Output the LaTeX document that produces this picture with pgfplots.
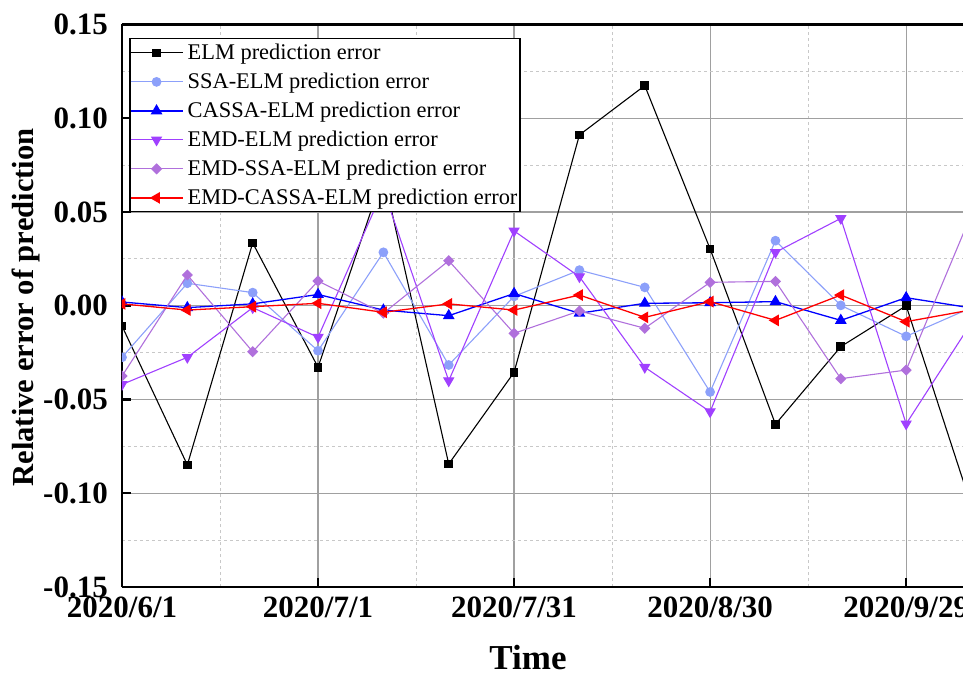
\documentclass[border=0pt]{standalone}
\usepackage{fontspec}
\setmainfont{Liberation Serif}
\usepackage{pgfplots}
\usepackage{pgfplotstable}
\pgfplotsset{compat=1.18}
\definecolor{cSSA}{RGB}{140,160,250}
\definecolor{cEMD}{RGB}{160,64,255}
\definecolor{cEMDSSA}{RGB}{176,112,220}
\definecolor{majgrid}{RGB}{160,160,160}
\definecolor{mingrid}{RGB}{200,200,200}

\pgfplotstableread{
day elm ssa cassa emd emdssa emdcassa
0 -0.0108 -0.0275 0.0020 -0.0420 -0.0375 0.0010
10 -0.0849 0.0120 -0.0010 -0.0275 0.0164 -0.0023
20 0.0335 0.0070 0.0010 -0.0010 -0.0245 -0.0005
30 -0.0328 -0.0240 0.0060 -0.0168 0.0132 0.0013
40 0.0700 0.0285 -0.0023 0.0620 -0.0040 -0.0035
50 -0.0844 -0.0316 -0.0053 -0.0400 0.0240 0.0010
60 -0.0355 0.0050 0.0065 0.0399 -0.0147 -0.0023
70 0.0911 0.0190 -0.0040 0.0155 -0.0028 0.0057
80 0.1174 0.0098 0.0013 -0.0328 -0.0120 -0.0062
90 0.0303 -0.0460 0.0016 -0.0565 0.0125 0.0022
100 -0.0632 0.0347 0.0022 0.0285 0.0130 -0.0078
110 -0.0218 0.0002 -0.0078 0.0466 -0.0389 0.0057
120 0.0000 -0.0163 0.0043 -0.0630 -0.0343 -0.0085
130 -0.1070 -0.0010 -0.0012 -0.0090 0.0490 -0.0022
}\datatable

\begin{document}
\begin{tikzpicture}
\begin{axis}[
  name=ax,
  scale only axis,
  width=841pt, height=562.5pt,
  xmin=0, xmax=128.7,
  ymin=-0.15, ymax=0.15,
  axis x line*=box, axis y line*=left,
  xtick pos=left, ytick pos=left,
  axis line style={-, line width=2.8pt, black},
  xtick={0,30,60,90,120},
  xticklabels={2020/6/1,2020/7/1,2020/7/31,2020/8/30,2020/9/29},
  ytick={-0.15,-0.10,-0.05,0,0.05,0.10,0.15},
  minor x tick num=1, minor y tick num=1,
  grid=both,
  major grid style={majgrid, line width=1.2pt},
  minor grid style={mingrid, line width=0.9pt, dash pattern=on 3pt off 3pt},
  tick align=inside,
  major tick length=9pt, minor tick length=0pt,
  tick style={line width=2.5pt, black},
  tick label style={font=\fontsize{31}{31}\selectfont\bfseries},
  yticklabel style={anchor=east, inner sep=0pt, xshift=-14pt,
    /pgf/number format/.cd, fixed, fixed zerofill, precision=2, assume math mode=true},
  xticklabel style={anchor=north, inner sep=0pt, yshift=-10pt},
  scaled y ticks=false,
  xlabel={Time},
  xlabel style={font=\fontsize{35}{35}\selectfont\bfseries, at={(axis description cs:0.4828,-0.126)}, anchor=center},
  ylabel={Relative error of prediction},
  ylabel style={font=\fontsize{30.6}{30.6}\selectfont\bfseries, at={(axis description cs:-0.1141,0.497)}, anchor=center, rotate=0},
  clip marker paths=true,
  legend cell align=left,
  legend style={at={(axis description cs:0.00868,0.9755)}, anchor=north west,
    draw=black, line width=1.2pt, fill=white,
    font=\fontsize{22.4}{22.4}\selectfont,
    inner xsep=0pt, inner ysep=3pt,
    row sep=7pt, column sep=2pt,
    nodes={inner xsep=2.5pt, inner ysep=0pt, text height=18pt, text depth=4pt}},
  legend image code/.code={\draw[mark repeat=2,mark phase=2] plot coordinates {(0pt,0pt) (26pt,0pt) (52pt,0pt)};},
]
\addplot[black, line width=1.1pt, mark=square*, mark size=3.8pt, mark options={solid, fill=black}] table[x=day, y=elm] {\datatable};
\addlegendentry{ELM prediction error}
\addplot[cSSA, line width=1.1pt, mark=*, mark size=4.3pt, mark options={solid, fill=cSSA}] table[x=day, y=ssa] {\datatable};
\addlegendentry{SSA-ELM prediction error}
\addplot[blue, line width=1.3pt, mark=triangle*, mark size=5.5pt, mark options={solid, fill=blue}] table[x=day, y=cassa] {\datatable};
\addlegendentry{CASSA-ELM prediction error}
\addplot[cEMD, line width=1.1pt, mark=triangle*, mark size=5.5pt, mark options={solid, fill=cEMD, rotate=180}] table[x=day, y=emd] {\datatable};
\addlegendentry{EMD-ELM prediction error}
\addplot[cEMDSSA, line width=1.1pt, mark=square*, mark size=3.4pt, mark options={solid, fill=cEMDSSA, rotate=45}] table[x=day, y=emdssa] {\datatable};
\addlegendentry{EMD-SSA-ELM prediction error}
\addplot[red, line width=1.3pt, mark=triangle*, mark size=5.5pt, mark options={solid, fill=red, rotate=90}] table[x=day, y=emdcassa] {\datatable};
\addlegendentry{EMD-CASSA-ELM prediction error}
\end{axis}
\pgfresetboundingbox
\path ([xshift=-122pt,yshift=-87pt]ax.south west) rectangle ([yshift=24.5pt]ax.north east);
\end{tikzpicture}
\end{document}
